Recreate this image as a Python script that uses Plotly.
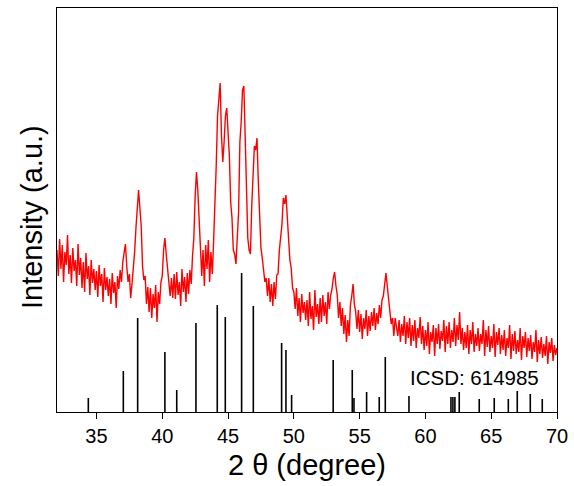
import plotly.graph_objects as go

# ---- measured XRD pattern (2-theta step 0.1 deg, 32.0 .. 70.0), intensity in a.u.
two_theta_start = 32.0
two_theta_step = 0.1
intensity = [
    162, 136, 173, 143, 167, 130, 160, 147, 177, 138,   # 32
    157, 129, 164, 141, 152, 126, 168, 137, 154, 124,   # 33
    150, 120, 159, 133, 146, 117, 152, 129, 143, 122,   # 34
    141, 115, 147, 126, 138, 110, 144, 122, 135, 116,   # 35
    133, 108, 139, 119, 130, 104, 136, 123, 142, 130,   # 36
    150, 162, 168, 146, 130, 138, 114, 128, 142, 160,   # 37
    184, 200, 222, 204, 186, 146, 132, 136, 108, 125,   # 38
    100, 124, 94, 118, 104, 127, 90, 120, 108, 130,     # 39
    136, 162, 174, 158, 144, 124, 116, 134, 114, 138,   # 40
    113, 140, 117, 130, 106, 143, 120, 135, 110, 139,   # 41
    118, 142, 128, 156, 174, 216, 240, 222, 194, 160,   # 42
    136, 162, 126, 167, 143, 172, 130, 160, 138, 170,   # 43
    205, 246, 296, 312, 329, 276, 250, 270, 296, 304,   # 44
    280, 256, 210, 194, 162, 158, 148, 174, 200, 270,   # 45
    290, 322, 326, 276, 226, 174, 162, 158, 206, 236,   # 46
    266, 262, 274, 230, 200, 164, 154, 138, 130, 134,   # 47
    116, 134, 110, 128, 106, 130, 113, 137, 138, 162,   # 48
    178, 188, 214, 208, 217, 196, 184, 152, 144, 124,   # 49
    120, 103, 124, 96, 114, 90, 118, 99, 110, 92,       # 50
    112, 86, 120, 93, 106, 82, 122, 95, 108, 88,        # 51
    114, 90, 117, 96, 110, 88, 120, 103, 117, 123,      # 52
    134, 140, 126, 117, 94, 110, 86, 104, 78, 97,       # 53
    70, 92, 76, 107, 116, 128, 108, 100, 83, 102,       # 54
    80, 98, 73, 94, 83, 102, 76, 96, 81, 100,           # 55
    86, 104, 82, 99, 88, 107, 94, 112, 116, 132,        # 56
    139, 126, 112, 96, 88, 94, 76, 94, 82, 76,          # 57
    92, 70, 88, 76, 96, 68, 90, 74, 94, 66,             # 58
    87, 71, 92, 64, 84, 74, 95, 68, 86, 62,             # 59
    82, 66, 90, 58, 80, 70, 87, 56, 84, 68,             # 60
    88, 63, 81, 71, 92, 60, 86, 68, 90, 64,             # 61
    82, 70, 94, 66, 87, 72, 100, 68, 84, 62,            # 62
    80, 64, 87, 58, 82, 68, 90, 60, 78, 66,             # 63
    84, 61, 78, 68, 92, 56, 82, 65, 86, 60,             # 64
    76, 64, 88, 55, 80, 67, 84, 58, 77, 62,             # 65
    82, 56, 74, 64, 87, 53, 78, 61, 81, 58,             # 66
    72, 60, 84, 52, 76, 64, 80, 55, 74, 61,             # 67
    77, 53, 70, 60, 82, 50, 72, 58, 75, 54,             # 68
    68, 56, 76, 48, 70, 59, 74, 51, 67, 57,             # 69
    64,                                                 # 70
]

# ---- reference pattern ICSD 614985 (positions / relative heights)
ref_positions = [34.38, 37.04, 38.13, 40.20, 41.10, 42.56, 44.18, 44.79, 46.03,
                 46.92, 49.07, 49.40, 49.83, 52.99, 54.44, 54.57, 55.53, 56.49,
                 56.95, 58.75, 61.94, 62.09, 62.24, 62.57, 64.09, 65.23, 66.30,
                 66.98, 67.97, 68.88]
ref_heights = [14, 41, 94, 60, 22, 89, 107, 95, 139,
               106, 69, 62, 17, 52, 42, 14, 20, 15,
               55, 16, 15, 15, 15, 20, 13, 14, 13,
               21, 18, 13]

x_ticks = [35, 40, 45, 50, 55, 60, 65, 70]
ref_label = "ICSD: 614985"
x_title = "2 θ (degree)"
y_title = "Intensity (a.u.)"

two_theta = [round(two_theta_start + i * two_theta_step, 2) for i in range(len(intensity))]

# stick lines built from the reference arrays
stick_x, stick_y = [], []
for p, h in zip(ref_positions, ref_heights):
    stick_x += [p, p, None]
    stick_y += [0, h, None]

FONT = "Arial, Liberation Sans, sans-serif"

fig = go.Figure()
fig.add_trace(go.Scatter(x=stick_x, y=stick_y, mode="lines",
                         line=dict(color="black", width=1.6),
                         hoverinfo="skip", showlegend=False))
fig.add_trace(go.Scatter(x=two_theta, y=intensity, mode="lines",
                         line=dict(color="#ff0000", width=1.4),
                         showlegend=False))

fig.add_annotation(x=58.67, y=35, xref="x", yref="y", text=ref_label,
                   showarrow=False, xanchor="left", yanchor="middle",
                   font=dict(family=FONT, size=20.5, color="black"))

# axis titles
fig.add_annotation(x=307, y=486 - 465, xref="paper", yref="paper", text=x_title,
                   showarrow=False, xanchor="center", yanchor="middle",
                   font=dict(family=FONT, size=29, color="black"))
fig.add_annotation(x=32, y=486 - 217, xref="paper", yref="paper", text=y_title,
                   showarrow=False, xanchor="center", yanchor="middle", textangle=-90,
                   font=dict(family=FONT, size=29, color="black"))

fig.update_layout(
    width=574, height=486, autosize=False,
    margin=dict(l=57, r=17, t=8, b=74, autoexpand=False),
    paper_bgcolor="white", plot_bgcolor="white",
    font=dict(family=FONT, color="black"),
)
# convert the pixel positions of the titles into paper fractions
plot_w = 574 - 57 - 17
plot_h = 486 - 8 - 74
for ann in fig.layout.annotations[1:]:
    ann.x = (ann.x - 57) / plot_w
    ann.y = (ann.y - 74) / plot_h

fig.update_xaxes(
    range=[32, 70], tickvals=x_ticks, ticks="outside", ticklen=6, tickwidth=1.2,
    tickcolor="black", tickfont=dict(size=20, family=FONT),
    showline=True, linecolor="black", linewidth=1.2, mirror=True,
    showgrid=False, zeroline=False, automargin=False,
)
fig.update_yaxes(
    range=[0, 404], showticklabels=False, ticks="",
    showline=True, linecolor="black", linewidth=1.2, mirror=True,
    showgrid=False, zeroline=False, automargin=False,
)

fig.write_html("out.html", config={"displayModeBar": False},
               post_script="document.body.style.margin='0';document.body.style.overflow='hidden';")
